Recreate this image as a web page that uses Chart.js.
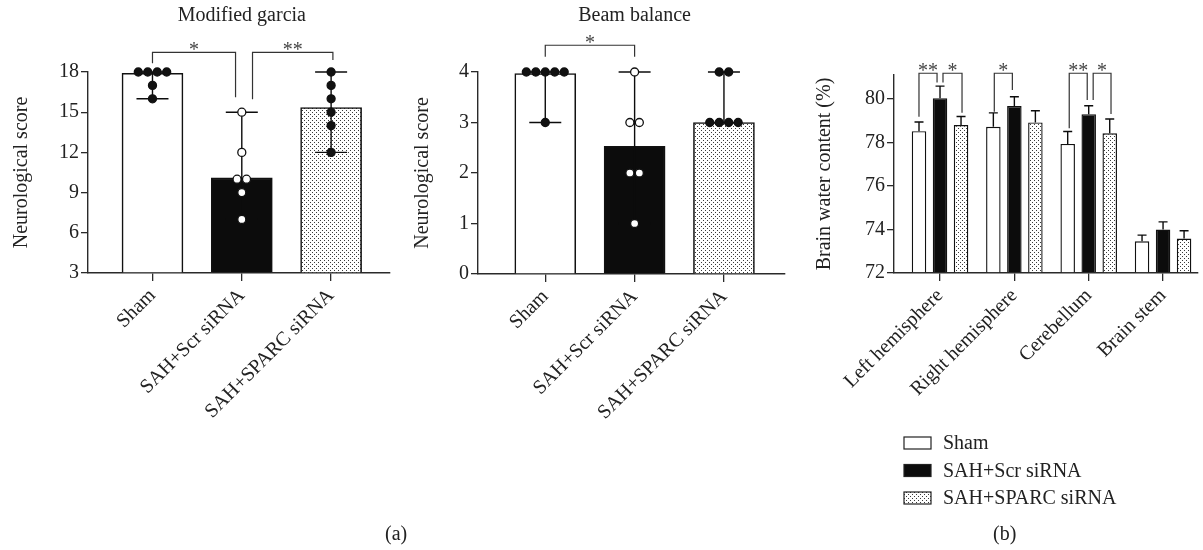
<!DOCTYPE html>
<html>
<head>
<meta charset="utf-8">
<script src="https://cdn.jsdelivr.net/npm/chart.js@4.4.0/dist/chart.umd.min.js"></script>
<style>
  body { margin: 0; background: #fff; }
  #wrap { position: relative; width: 1203px; height: 550px; overflow: hidden; }
  .panel { position: absolute; top: 0; height: 550px; }
  .tag { position: absolute; font: 20px "Liberation Serif", serif; color: #222; line-height: 24px; }
</style>
</head>
<body>
<div id="wrap">
  <div class="panel" style="left:0;width:395px"><canvas id="garcia"></canvas></div>
  <div class="panel" style="left:395px;width:395px"><canvas id="beam"></canvas></div>
  <div class="panel" style="left:790px;width:413px"><canvas id="water"></canvas></div>
  <div class="tag" style="left:385px;top:521px">(a)</div>
  <div class="tag" style="left:993px;top:521px">(b)</div>
</div>
<script>
// groups and regions
const groups = ['Sham', 'SAH+Scr siRNA', 'SAH+SPARC siRNA'];
const regions = ['Left hemisphere', 'Right hemisphere', 'Cerebellum', 'Brain stem'];

// modified garcia score
const garciaBars = [17.9, 10.1, 15.35];
const garciaLow = [16, 7, 12];
const garciaHigh = [18, 15, 18];
const garciaSham = [18, 18, 18, 18, 17, 16];
const garciaScr = [15, 12, 10, 10, 9, 7];
const garciaSparc = [18, 17, 16, 15, 14, 12];
const garciaTicks = [3, 6, 9, 12, 15, 18];

// beam balance score
const beamBars = [3.97, 2.53, 3.0];
const beamLow = [3, 1, 3];
const beamHigh = [4, 4, 4];
const beamSham = [4, 4, 4, 4, 4, 3];
const beamScr = [4, 3, 3, 2, 2, 1];
const beamSparc = [4, 4, 3, 3, 3, 3];
const beamTicks = [0, 1, 2, 3, 4];

// brain water content (%), mean and SD
const waterSham = [78.52, 78.72, 77.93, 73.46];
const waterScr = [80.03, 79.67, 79.3, 74.0];
const waterSparc = [78.8, 78.92, 78.42, 73.58];
const waterShamErr = [0.42, 0.64, 0.57, 0.28];
const waterScrErr = [0.56, 0.43, 0.39, 0.35];
const waterSparcErr = [0.39, 0.54, 0.66, 0.36];
const waterTicks = [72, 74, 76, 78, 80];

const FONT = '"Liberation Serif", "DejaVu Serif", serif';
const INK = '#222';
const AXIS = '#2a2a2a';
const BLACK = '#0c0c0c';
Chart.defaults.font.family = FONT;
Chart.defaults.font.size = 20;
Chart.defaults.color = INK;

// dotted fill used for SAH+SPARC siRNA
function stipple() {
  const c = document.createElement('canvas');
  c.width = 4; c.height = 4;
  const g = c.getContext('2d');
  g.fillStyle = '#fff';
  g.fillRect(0, 0, 4, 4);
  g.fillStyle = '#3a3a3a';
  g.fillRect(0, 0, 1, 1);
  g.fillRect(2, 2, 1, 1);
  return g.createPattern(c, 'repeat');
}
const dots = stipple();
const fills = ['#ffffff', BLACK, dots];

// spread equal values side by side
function swarm(values, center, step) {
  const counts = {};
  values.forEach(v => { counts[v] = (counts[v] || 0) + 1; });
  const seen = {};
  return values.map(v => {
    seen[v] = (seen[v] === undefined) ? 0 : seen[v] + 1;
    return { x: center + (seen[v] - (counts[v] - 1) / 2) * step, y: v };
  });
}

// titles, whiskers, significance brackets and legend
function decor(cfg) {
  return {
    id: 'decor',
    afterDatasetDraw(chart, args) {
      if (args.meta.type !== 'bar') return;
      const ctx = chart.ctx;
      const xs = chart.scales.x, ys = chart.scales.y;
      ctx.save();
      ctx.strokeStyle = BLACK;
      ctx.lineWidth = 1.4;
      if (cfg.range) {
        cfg.range.low.forEach((lo, i) => {
          const x = xs.getPixelForValue(i);
          const y1 = ys.getPixelForValue(lo), y2 = ys.getPixelForValue(cfg.range.high[i]);
          const h = cfg.range.cap / 2;
          ctx.beginPath();
          ctx.moveTo(x, y1); ctx.lineTo(x, y2);
          ctx.moveTo(x - h, y1); ctx.lineTo(x + h, y1);
          ctx.moveTo(x - h, y2); ctx.lineTo(x + h, y2);
          ctx.stroke();
        });
      }
      if (cfg.errors) {
        const err = cfg.errors[args.index];
        args.meta.data.forEach((bar, i) => {
          const v = chart.data.datasets[args.index].data[i].y;
          const top = ys.getPixelForValue(v + err[i]);
          const h = cfg.cap / 2;
          ctx.beginPath();
          ctx.moveTo(bar.x, bar.y); ctx.lineTo(bar.x, top);
          ctx.moveTo(bar.x - h, top); ctx.lineTo(bar.x + h, top);
          ctx.stroke();
        });
      }
      ctx.restore();
    },
    afterDraw(chart) {
      const ctx = chart.ctx;
      const xs = chart.scales.x, ys = chart.scales.y;
      ctx.save();
      ctx.fillStyle = INK;
      ctx.font = '20px ' + FONT;
      if (cfg.title) {
        ctx.textAlign = 'center';
        ctx.textBaseline = 'middle';
        ctx.fillText(cfg.title, xs.getPixelForValue(1), 16);
      }
      ctx.strokeStyle = '#333';
      ctx.lineWidth = 1.2;
      (cfg.brackets || []).forEach(b => {
        const x1 = xs.getPixelForValue(b.from), x2 = xs.getPixelForValue(b.to);
        const yt = ys.getPixelForValue(b.top);
        ctx.beginPath();
        ctx.moveTo(x1, ys.getPixelForValue(b.legs[0]));
        ctx.lineTo(x1, yt);
        ctx.lineTo(x2, yt);
        ctx.lineTo(x2, ys.getPixelForValue(b.legs[1]));
        ctx.stroke();
        ctx.textAlign = 'center';
        ctx.textBaseline = 'alphabetic';
        ctx.fillStyle = '#444';
        ctx.fillText(b.text, (x1 + x2) / 2, yt + 4);
      });
      if (cfg.legend) {
        const L = cfg.legend;
        chart.data.datasets.forEach((ds, i) => {
          const yc = L.y + i * L.gap;
          ctx.fillStyle = ds.backgroundColor;
          ctx.fillRect(L.x, yc - L.h / 2, L.w, L.h);
          ctx.strokeStyle = '#222';
          ctx.lineWidth = 1.2;
          ctx.strokeRect(L.x, yc - L.h / 2, L.w, L.h);
          ctx.fillStyle = INK;
          ctx.textAlign = 'left';
          ctx.textBaseline = 'middle';
          ctx.fillText(ds.label, L.x + L.w + 12, yc + 1);
        });
      }
      ctx.restore();
    }
  };
}

function xAxis(labels, min, max) {
  return {
    type: 'linear', min: min, max: max, offset: false,
    afterBuildTicks: s => { s.ticks = labels.map((_, i) => ({ value: i })); },
    afterFit: s => { s.height = 150; },
    ticks: { callback: v => labels[v], minRotation: 45, maxRotation: 45, autoSkip: false, padding: 3, color: INK },
    grid: { offset: false, drawOnChartArea: false, tickLength: 8, color: AXIS, lineWidth: 1.3 },
    border: { color: AXIS, width: 1.4 }
  };
}

function yAxis(ticks, width, title, titlePad) {
  return {
    min: ticks[0], max: ticks[ticks.length - 1],
    afterBuildTicks: s => { s.ticks = ticks.map(v => ({ value: v })); },
    afterFit: s => { s.width = width; },
    ticks: { padding: 2, color: INK },
    grid: { drawOnChartArea: false, tickLength: 7, color: AXIS, lineWidth: 1.3 },
    border: { color: AXIS, width: 1.4 },
    title: { display: true, text: title, color: INK, font: { size: 20 }, padding: { top: titlePad } }
  };
}

function scoreChart(id, bars, sets, yTicks, yWidth, titlePad, xMin, xMax, deco, pad) {
  const step = 0.106;
  const pointSets = sets.map((vals, i) => ({
    type: 'scatter',
    data: swarm(vals, i, step),
    order: 0,
    clip: false,
    pointRadius: 4,
    pointBorderWidth: 1.3,
    pointBorderColor: '#111',
    pointBackgroundColor: i === 1 ? '#fff' : '#111'
  }));
  return new Chart(document.getElementById(id), {
    type: 'bar',
    data: {
      datasets: [{
        type: 'bar',
        order: 2,
        data: bars.map((v, i) => ({ x: i, y: v })),
        base: yTicks[0],
        backgroundColor: fills,
        borderColor: '#111',
        borderWidth: 1.6,
        barThickness: 61
      }].concat(pointSets)
    },
    options: {
      responsive: true, maintainAspectRatio: false, animation: false, events: [],
      layout: { padding: pad },
      plugins: { legend: { display: false }, tooltip: { enabled: false } },
      scales: { x: xAxis(groups, xMin, xMax), y: yAxis(yTicks, yWidth, 'Neurological score', titlePad) }
    },
    plugins: [decor(deco)]
  });
}

scoreChart('garcia', garciaBars, [garciaSham, garciaScr, garciaSparc], garciaTicks, 88, 10, -0.722, 2.656, {
  title: 'Modified garcia',
  range: { low: garciaLow, high: garciaHigh, cap: 32 },
  brackets: [
    { from: 0, to: 0.93, top: 19.47, legs: [18.65, 16.12], text: '*' },
    { from: 1.12, to: 2.02, top: 19.47, legs: [15.97, 18.9], text: '**' }
  ]
}, { top: 72, right: 3, bottom: 127, left: 0 });

scoreChart('beam', beamBars, [beamSham, beamScr, beamSparc], beamTicks, 83, 16, -0.753, 2.68, {
  title: 'Beam balance',
  range: { low: beamLow, high: beamHigh, cap: 32 },
  brackets: [
    { from: 0, to: 1, top: 4.53, legs: [4.3, 4.3], text: '*' }
  ]
}, { top: 72, right: 3, bottom: 126, left: 0 });

const waterSets = [waterSham, waterScr, waterSparc];
new Chart(document.getElementById('water'), {
  type: 'bar',
  data: {
    datasets: waterSets.map((vals, i) => ({
      label: groups[i],
      data: vals.map((v, j) => ({ x: j, y: v })),
      base: 72,
      backgroundColor: fills[i],
      borderColor: '#111',
      borderWidth: 1.4,
      categoryPercentage: 0.848,
      barPercentage: 0.69
    }))
  },
  options: {
    responsive: true, maintainAspectRatio: false, animation: false, events: [],
    layout: { padding: { top: 75, right: 5, bottom: 127, left: 0 } },
    plugins: { legend: { display: false }, tooltip: { enabled: false } },
    scales: {
      x: xAxis(regions, -0.619, 3.47),
      y: Object.assign(yAxis(waterTicks, 104, 'Brain water content (%)', 23), { max: 81.1 })
    }
  },
  plugins: [decor({
    errors: [waterShamErr, waterScrErr, waterSparcErr],
    cap: 9,
    brackets: [
      { from: -0.283, to: -0.04, top: 81.18, legs: [79.18, 80.75], text: '**' },
      { from: 0.04, to: 0.296, top: 81.18, legs: [80.75, 79.37], text: '*' },
      { from: 0.73, to: 0.973, top: 81.18, legs: [79.41, 80.41], text: '*' },
      { from: 1.738, to: 1.98, top: 81.18, legs: [78.65, 79.95], text: '**' },
      { from: 2.06, to: 2.30, top: 81.18, legs: [79.95, 79.31], text: '*' }
    ],
    legend: { x: 114, y: 443, gap: 27.5, w: 27, h: 12 }
  })]
});
</script>
</body>
</html>
